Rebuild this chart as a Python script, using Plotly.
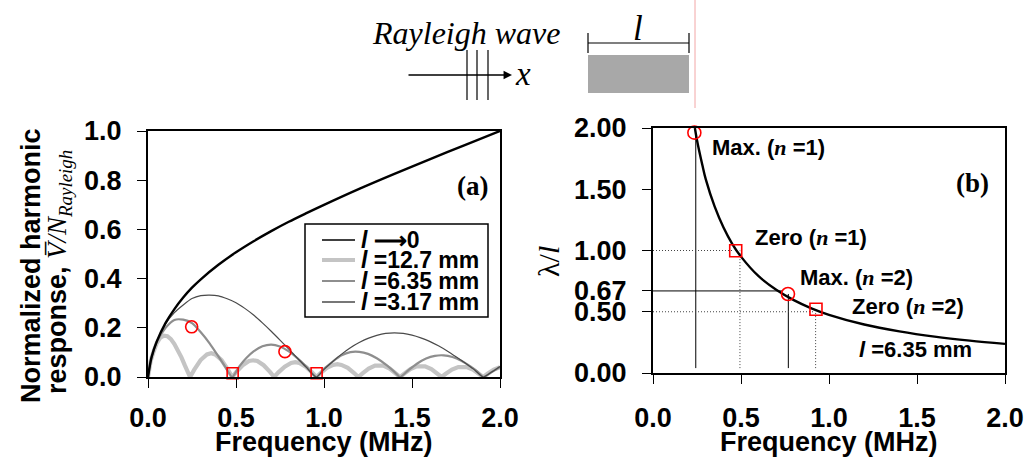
import plotly.graph_objects as go

W, H = 1027, 459


def px(x):
    return x / W


def py(y):
    return 1 - y / H


SANS = "Liberation Sans, Arial, sans-serif"
SERIF = "Liberation Serif, Times New Roman, serif"

# ---------------- panel (a) data ----------------
f_env = [0, 0.02, 0.05, 0.1, 0.15, 0.2, 0.25, 0.3, 0.4, 0.5, 0.6, 0.7, 0.8, 0.9,
         1.0, 1.2, 1.4, 1.6, 1.8, 2.0]
v_env = [0, 0.08, 0.145, 0.22, 0.276, 0.323, 0.363, 0.397, 0.456, 0.507, 0.552, 0.593,
         0.631, 0.666, 0.70, 0.765, 0.826, 0.885, 0.943, 1.0]

f_127 = [0, 0.005, 0.015, 0.03, 0.05, 0.07, 0.09, 0.11, 0.13, 0.15, 0.17, 0.19, 0.21, 0.225, 0.239,
         0.263, 0.299, 0.335, 0.359, 0.382, 0.418, 0.454, 0.478,
         0.502, 0.538, 0.574, 0.598, 0.621, 0.657, 0.693, 0.717,
         0.741, 0.777, 0.813, 0.837, 0.860, 0.896, 0.932, 0.956,
         0.980, 1.016, 1.052, 1.076, 1.099, 1.135, 1.171, 1.195,
         1.219, 1.254, 1.290, 1.314, 1.337, 1.373, 1.408, 1.432,
         1.456, 1.491, 1.527, 1.551, 1.574, 1.610, 1.645, 1.668,
         1.692, 1.727, 1.763, 1.787, 1.810, 1.846, 1.881, 1.905,
         1.929, 1.965, 2.0]
v_127 = [0, 0.03, 0.065, 0.1, 0.138, 0.16, 0.168, 0.166, 0.154, 0.134, 0.11, 0.08, 0.046, 0.022, 0,
         0.030, 0.069, 0.092, 0.097, 0.092, 0.069, 0.030, 0,
         0.021, 0.048, 0.065, 0.068, 0.065, 0.048, 0.021, 0,
         0.019, 0.042, 0.057, 0.060, 0.057, 0.042, 0.019, 0,
         0.016, 0.037, 0.049, 0.052, 0.049, 0.037, 0.016, 0,
         0.015, 0.034, 0.046, 0.048, 0.046, 0.034, 0.015, 0,
         0.014, 0.032, 0.043, 0.045, 0.043, 0.032, 0.014, 0,
         0.013, 0.030, 0.040, 0.042, 0.040, 0.030, 0.013, 0,
         0.013, 0.030, 0.040]

f_635 = [0, 0.01, 0.02, 0.05, 0.1, 0.15, 0.2, 0.25, 0.3, 0.35, 0.4, 0.44, 0.478,
         0.52, 0.56, 0.6, 0.65, 0.7, 0.75, 0.8, 0.85, 0.9, 0.956,
         1.0, 1.05, 1.1, 1.15, 1.2, 1.25, 1.3, 1.35, 1.4, 1.432,
         1.48, 1.53, 1.58, 1.63, 1.68, 1.73, 1.78, 1.83, 1.87, 1.905, 1.95, 2.0]
v_635 = [0, 0.045, 0.077, 0.142, 0.2, 0.232, 0.233, 0.219, 0.182, 0.137, 0.084, 0.04, 0,
         0.044, 0.078, 0.104, 0.125, 0.132, 0.124, 0.104, 0.076, 0.042, 0,
         0.033, 0.063, 0.088, 0.101, 0.102, 0.094, 0.076, 0.051, 0.021, 0,
         0.028, 0.055, 0.075, 0.086, 0.088, 0.081, 0.066, 0.044, 0.023, 0, 0.019, 0.041]

f_317 = [0, 0.01, 0.02, 0.05, 0.1, 0.15, 0.2, 0.25, 0.3, 0.35, 0.4, 0.45, 0.5, 0.55, 0.6,
         0.65, 0.7, 0.75, 0.8, 0.85, 0.9, 0.956,
         1.0, 1.05, 1.1, 1.15, 1.2, 1.25, 1.3, 1.35, 1.4, 1.45, 1.5, 1.55, 1.6, 1.65,
         1.7, 1.75, 1.8, 1.85, 1.905, 1.95, 2.0]
v_317 = [0, 0.045, 0.077, 0.142, 0.216, 0.262, 0.293, 0.319, 0.331, 0.333, 0.330, 0.318,
         0.302, 0.279, 0.252, 0.22, 0.186, 0.15, 0.113, 0.076, 0.039, 0,
         0.031, 0.063, 0.093, 0.119, 0.14, 0.157, 0.169, 0.177, 0.179, 0.177, 0.17,
         0.159, 0.145, 0.127, 0.106, 0.0825, 0.058, 0.032, 0, 0.019, 0.043]

max_a_f = [0.248, 0.778]
max_a_v = [0.204, 0.103]
zero_a_f = [0.481, 0.958]
zero_a_v = [0.015, 0.015]

# ---------------- panel (b) data ----------------
f_lam = [0.238, 0.25, 0.28, 0.3, 0.35, 0.4, 0.45, 0.5, 0.6, 0.7, 0.8, 0.9, 1.0,
         1.2, 1.4, 1.6, 1.8, 2.0]
lam_l = [2.0, 1.9, 1.7, 1.58, 1.36, 1.19, 1.055, 0.95, 0.79, 0.68, 0.595, 0.528,
         0.475, 0.396, 0.34, 0.297, 0.264, 0.238]

max_b_f = [0.235, 0.767]
max_b_v = [1.962, 0.645]
zero_b_f = [0.47, 0.926]
zero_b_v = [0.998, 0.52]

# guide lines in (b): solid and dotted
solid_x = [0.243, 0.243, None, 0.769, 0.769, None, 0, 0.737]
solid_y = [0.04, 1.95, None, 0.04, 0.645, None, 0.67, 0.67]
dot_x = [0.494, 0.494, None, 0.924, 0.924, None, 0, 0.455, None, 0, 0.92]
dot_y = [0.04, 1.0, None, 0.04, 0.5, None, 1.0, 1.0, None, 0.5, 0.5]

x_ticks = [0, 0.5, 1.0, 1.5, 2.0]
x_tick_text = ["0.0", "0.5", "1.0", "1.5", "2.0"]
ya_ticks = [0, 0.2, 0.4, 0.6, 0.8, 1.0]
ya_tick_text = ["0.0", "0.2", "0.4", "0.6", "0.8", "1.0"]
yb_ticks = [0, 0.5, 0.67, 1.0, 1.5, 2.0]
yb_tick_text = ["0.00", "0.50", "0.67", "1.00", "1.50", "2.00"]

legend_labels = ["<b><i>l</i> \u27f60</b>", "<b><i>l</i> =12.7 mm</b>",
                 "<b><i>l</i> =6.35 mm</b>", "<b><i>l</i> =3.17 mm</b>"]

C_127 = "#c4c4c4"
C_635 = "#8e8e8e"
C_317 = "#4a4a4a"

fig = go.Figure()

fig.add_trace(go.Scatter(x=f_127, y=v_127, mode="lines",
                         line=dict(color=C_127, width=4.2), xaxis="x", yaxis="y"))
fig.add_trace(go.Scatter(x=f_635, y=v_635, mode="lines",
                         line=dict(color=C_635, width=2.2, shape="spline", smoothing=0.6),
                         xaxis="x", yaxis="y"))
fig.add_trace(go.Scatter(x=f_317, y=v_317, mode="lines",
                         line=dict(color=C_317, width=1.2, shape="spline", smoothing=0.6),
                         xaxis="x", yaxis="y"))
fig.add_trace(go.Scatter(x=f_env, y=v_env, mode="lines",
                         line=dict(color="black", width=2.4, shape="spline", smoothing=0.8),
                         xaxis="x", yaxis="y"))
fig.add_trace(go.Scatter(x=max_a_f, y=max_a_v, mode="markers", cliponaxis=False,
                         marker=dict(symbol="circle-open", size=12, color="red",
                                     line=dict(width=1.6, color="red")),
                         xaxis="x", yaxis="y"))
fig.add_trace(go.Scatter(x=zero_a_f, y=zero_a_v, mode="markers", cliponaxis=False,
                         marker=dict(symbol="square-open", size=11, color="red",
                                     line=dict(width=1.6, color="red")),
                         xaxis="x", yaxis="y"))

# panel b
fig.add_trace(go.Scatter(x=solid_x, y=solid_y, mode="lines",
                         line=dict(color="black", width=1), xaxis="x2", yaxis="y2"))
fig.add_trace(go.Scatter(x=dot_x, y=dot_y, mode="lines",
                         line=dict(color="#444444", width=1, dash="1px,2px"),
                         xaxis="x2", yaxis="y2"))
fig.add_trace(go.Scatter(x=f_lam, y=lam_l, mode="lines",
                         line=dict(color="black", width=2.4, shape="spline"),
                         xaxis="x2", yaxis="y2"))
fig.add_trace(go.Scatter(x=max_b_f, y=max_b_v, mode="markers", cliponaxis=False,
                         marker=dict(symbol="circle-open", size=13, color="red",
                                     line=dict(width=1.6, color="red")),
                         xaxis="x2", yaxis="y2"))
fig.add_trace(go.Scatter(x=zero_b_f, y=zero_b_v, mode="markers", cliponaxis=False,
                         marker=dict(symbol="square-open", size=12, color="red",
                                     line=dict(width=1.6, color="red")),
                         xaxis="x2", yaxis="y2"))

tickfont = dict(family=SANS, size=27, color="black", weight="bold")
ax_common = dict(showline=True, linewidth=2, linecolor="black", mirror=True,
                 showgrid=False, zeroline=False, ticks="outside", ticklen=9,
                 tickwidth=1.3, tickcolor="black", tickfont=tickfont, automargin=False)

fig.update_layout(
    width=W, height=H, autosize=False,
    margin=dict(l=0, r=0, t=0, b=0, pad=0),
    paper_bgcolor="white", plot_bgcolor="white",
    showlegend=False,
    xaxis=dict(domain=[px(148), px(500)], range=[0, 2], tickvals=x_ticks,
               ticktext=x_tick_text, anchor="y", ticklabelstandoff=7, **ax_common),
    yaxis=dict(domain=[py(377), py(131)], range=[0, 1], tickvals=ya_ticks,
               ticktext=ya_tick_text, anchor="x", ticklabelstandoff=10, **ax_common),
    xaxis2=dict(domain=[px(653), px(1005)], range=[0, 2], tickvals=x_ticks,
                ticktext=x_tick_text, anchor="y2", ticklabelstandoff=11, **ax_common),
    yaxis2=dict(domain=[py(373), py(128)], range=[0, 2], tickvals=yb_ticks,
                ticktext=yb_tick_text, anchor="x2", ticklabelstandoff=10, **ax_common),
)

ann = []


def add_text(x, y, text, size, family=SANS, xanchor="center", yanchor="middle",
             angle=0, color="black"):
    ann.append(dict(x=px(x), y=py(y), xref="paper", yref="paper", text=text,
                    showarrow=False, xanchor=xanchor, yanchor=yanchor,
                    textangle=angle, font=dict(family=family, size=size, color=color)))


# axis titles
add_text(324, 442, "<b>Frequency (MHz)</b>", 27)
add_text(829, 442, "<b>Frequency (MHz)</b>", 27)
add_text(31, 266, "<b>Normalized harmonic</b>", 27, angle=-90)
add_text(59, 272,
         "<b>response, </b><span style='font-family:Liberation Serif'><i>"
         "V\u0305/N</i><sub><i>Rayleigh</i></sub></span>",
         27, angle=-90)
add_text(548, 262, "\u03bb/<i>l</i>", 30, family=SERIF, angle=-90)

# panel labels
add_text(472, 186, "<b>(a)</b>", 27, family=SERIF)
add_text(972, 183, "<b>(b)</b>", 27, family=SERIF)

# panel b annotations
nI = "<span style='font-family:Liberation Serif'><b><i>n</i></b></span>"
add_text(710, 147, "<b>Max. (</b>" + nI + "<b> =1)</b>", 22, xanchor="left")
add_text(753, 237, "<b>Zero (</b>" + nI + "<b> =1)</b>", 22, xanchor="left")
add_text(798, 277, "<b>Max. (</b>" + nI + "<b> =2)</b>", 22, xanchor="left")
add_text(850, 306, "<b>Zero (</b>" + nI + "<b> =2)</b>", 22, xanchor="left")
add_text(857, 349, "<b><i>l</i> =6.35 mm</b>", 22, xanchor="left")

# legend (manual)
shapes = []
shapes.append(dict(type="rect", xref="paper", yref="paper", x0=px(305), x1=px(488),
                   y0=py(317), y1=py(224), line=dict(color="black", width=1.5),
                   fillcolor="white", layer="above"))
leg_rows = [240, 260, 281, 302]
leg_styles = [("black", 1.4), (C_127, 4), (C_635, 2), (C_317, 1.4)]
for yy, (col, wdt), lab in zip(leg_rows, leg_styles, legend_labels):
    shapes.append(dict(type="line", xref="paper", yref="paper", x0=px(322), x1=px(355),
                       y0=py(yy), y1=py(yy), line=dict(color=col, width=wdt), layer="above"))
    add_text(359, yy, lab, 23, xanchor="left")

# schematic on top
add_text(466, 33, "<i>Rayleigh wave</i>", 32, family=SERIF)
add_text(513, 74, "<i>x</i>", 33, family=SERIF, xanchor="left")
add_text(638, 28, "<i>l</i>", 35, family=SERIF)
ann.append(dict(x=px(512), y=py(75), ax=-105, ay=0, xref="paper", yref="paper",
                axref="pixel", ayref="pixel", text="", showarrow=True, arrowhead=2,
                arrowsize=1.3, arrowwidth=1.3, arrowcolor="black"))
for xx in [467, 477, 488]:
    shapes.append(dict(type="line", xref="paper", yref="paper", x0=px(xx), x1=px(xx),
                       y0=py(50), y1=py(100), line=dict(color="black", width=1.2)))
shapes.append(dict(type="rect", xref="paper", yref="paper", x0=px(588), x1=px(689),
                   y0=py(93), y1=py(55), line=dict(width=0), fillcolor="#a8a8a8"))
shapes.append(dict(type="line", xref="paper", yref="paper", x0=px(588), x1=px(689),
                   y0=py(43), y1=py(43), line=dict(color="black", width=1.2)))
for xx in [588, 689]:
    shapes.append(dict(type="line", xref="paper", yref="paper", x0=px(xx), x1=px(xx),
                       y0=py(33), y1=py(53), line=dict(color="black", width=1.2)))
shapes.append(dict(type="line", xref="paper", yref="paper", x0=px(695), x1=px(695),
                   y0=py(0), y1=py(108), line=dict(color="#f2a6a6", width=1)))

fig.update_layout(annotations=ann, shapes=shapes)
fig.write_html("out.html")
